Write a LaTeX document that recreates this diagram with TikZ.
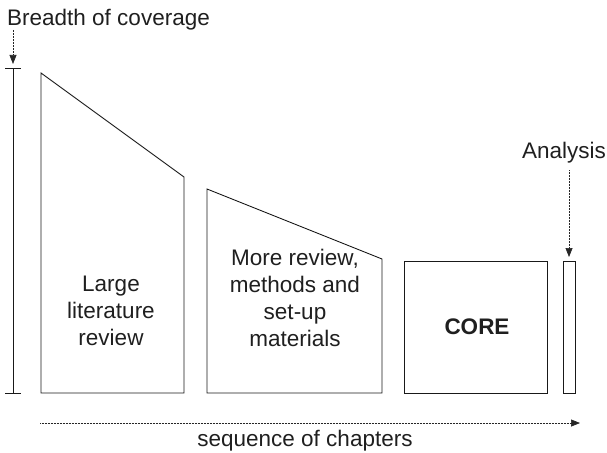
\documentclass[tikz,border=0pt]{standalone}
\usepackage{fontspec}
\setmainfont{Liberation Sans}
\usetikzlibrary{arrows.meta}
\begin{document}
\begin{tikzpicture}[x=1pt,y=-1pt,
  shapeline/.style={draw=black!90,line width=0.9pt,line join=miter},
  dotarrow/.style={draw=black!85,line width=0.7pt,dash pattern=on 0.7pt off 0.8pt,-{Triangle[length=9pt,width=7pt]}},
  lbl/.style={font=\fontsize{22.5}{27}\selectfont,text=black!88,align=center,inner sep=0pt}]
\useasboundingbox (0,0) rectangle (607,452);
% axis bar
\coordinate (vtop) at (13,68);
\coordinate (vbot) at (13,393);
\draw[line width=0.9pt,black!90] (vtop) -- (vbot);
\draw[line width=0.9pt,black!90] (5,68) -- (21,68);
\draw[line width=0.9pt,black!90] (5,393) -- (21,393);
% labels
\node[lbl,anchor=base west] (breadth) at (7,26) {Breadth of coverage};
\coordinate (barr) at (13,64);
\draw[dotarrow] (13,30) -- (barr);
% shapes
\draw[shapeline] (41,73) -- (184,177) -- (184,393) -- (41,393) -- cycle;
\draw[shapeline] (207,189) -- (382,259) -- (382,393) -- (207,393) -- cycle;
\draw[shapeline] (404,261) rectangle (547,393);
\draw[shapeline] (563,261) rectangle (575,393);
\node[lbl] (t1) at (111,311) {Large\\literature\\review};
\node[lbl] (t2) at (295,298) {More review,\\methods and\\set-up\\materials};
\node[lbl,font=\fontsize{22.5}{27}\selectfont\bfseries] (t3) at (477,327) {CORE};
\node[lbl] (ana) at (564,153) {Analysis};
\coordinate (aarr) at (569,257);
\draw[dotarrow] (569,170) -- (aarr);
% sequence arrow
\coordinate (sstart) at (40,423);
\coordinate (send) at (580,423);
\draw[dotarrow] (sstart) -- (send);
\node[lbl,anchor=base] (seq) at (305,446) {sequence of chapters};
\end{tikzpicture}
\end{document}
